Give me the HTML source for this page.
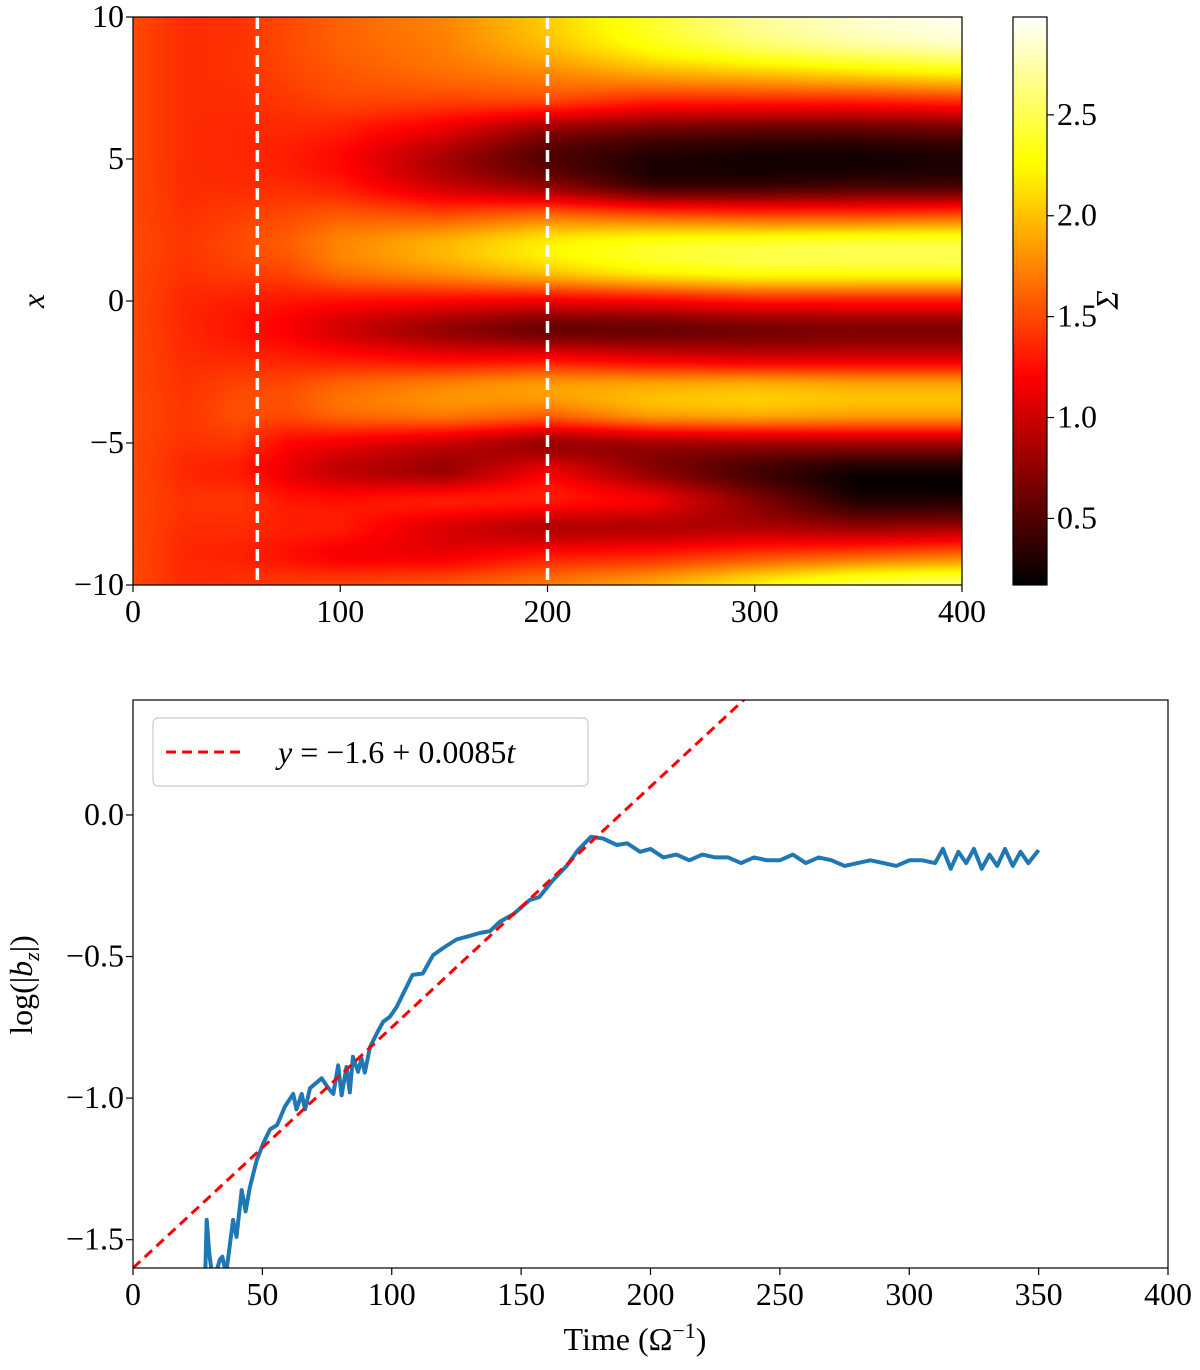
<!DOCTYPE html>
<html><head><meta charset="utf-8">
<style>
html,body{margin:0;padding:0;background:#fff;}
#wrap{position:relative;width:1200px;height:1370px;overflow:hidden;}
canvas{position:absolute;}
svg{position:absolute;left:0;top:0;}
text{font-family:"Liberation Serif",serif;fill:#000;}
</style></head>
<body>
<div id="wrap">
<canvas id="heat" style="left:133px;top:17px" width="829" height="568"></canvas>
<canvas id="cbar" style="left:1013px;top:17px" width="34" height="568"></canvas>
<svg id="svg" width="1200" height="1370"></svg>
</div>
<script>
// ---- heatmap data ----
const heatTimes = [0, 25, 50, 75, 100, 150, 200, 250, 300, 350, 400];
const heatX = [10,9,8,7,6,5,4,3,2,1,0,-1,-2,-3,-4,-5,-6,-7,-8,-9,-10];
const heatCols = [
 [1.5,1.5,1.5,1.5,1.5,1.5,1.5,1.5,1.5,1.5,1.5,1.5,1.5,1.5,1.5,1.5,1.5,1.5,1.5,1.5,1.5],
 [1.38,1.38,1.38,1.38,1.38,1.38,1.38,1.4,1.42,1.4,1.36,1.36,1.38,1.4,1.42,1.4,1.36,1.4,1.38,1.36,1.38],
 [1.4,1.4,1.4,1.38,1.36,1.36,1.38,1.45,1.5,1.45,1.32,1.28,1.36,1.48,1.52,1.42,1.32,1.42,1.38,1.34,1.4],
 [1.5,1.5,1.48,1.42,1.36,1.32,1.38,1.5,1.58,1.48,1.28,1.18,1.32,1.5,1.5,1.22,1.12,1.28,1.32,1.26,1.45],
 [1.6,1.6,1.55,1.48,1.32,1.22,1.32,1.58,1.75,1.65,1.25,1.02,1.28,1.62,1.62,1.15,0.95,1.25,1.3,1.18,1.48],
 [1.75,1.72,1.65,1.45,1.1,0.85,1.0,1.52,1.95,1.8,1.2,0.78,1.18,1.75,1.7,1.0,0.8,1.3,1.05,1.15,1.55],
 [2.05,1.98,1.75,1.45,0.75,0.5,0.8,1.65,2.2,2.0,1.15,0.6,1.2,1.85,1.6,0.8,1.15,1.3,0.9,1.3,1.7],
 [2.4,2.3,1.9,1.3,0.6,0.3,0.45,1.55,2.35,2.2,1.2,0.6,1.1,1.9,1.85,0.85,0.75,1.15,0.9,1.35,1.9],
 [2.7,2.55,2.0,1.3,0.55,0.25,0.45,1.5,2.4,2.3,1.3,0.65,1.05,1.95,1.9,0.85,0.45,0.7,0.9,1.5,2.2],
 [2.85,2.7,2.1,1.3,0.55,0.25,0.5,1.5,2.45,2.3,1.3,0.7,1.05,1.9,1.85,0.85,0.25,0.3,0.8,1.6,2.5],
 [2.95,2.8,2.2,1.35,0.6,0.3,0.5,1.55,2.45,2.3,1.3,0.7,1.05,1.9,1.85,0.85,0.25,0.3,0.85,1.7,2.6]
];
const cbarTicks = [0.5, 1.0, 1.5, 2.0, 2.5];
const heatXTicks = [0, 100, 200, 300, 400];
const heatYTicks = [10, 5, 0, -5, -10];
const markerTimes = [60, 200];
// ---- line data ----
const bzT = [28,28.5,29.5,31,33.6,34.5,36,38.7,40,42,43.5,45.2,47.8,50.3,53,55.7,58.7,61.9,63.2,65.2,66.5,68.4,72.9,75.5,77.4,79.3,80.6,82.5,83.8,85,87,88.3,89.6,91.6,94.2,96.7,99.3,101.9,104.5,108,112,116,119.9,125,129,134,138,141.8,147,153.4,157,162.3,167.6,172,177,181.6,187,191,196,200,205,210,215,220,225,230,235,240,245,250,255,260,265,270,275,280,285,290,295,300,305,310,313,316,319,322,325,328,331,334,337,340,343,346,350];
const bzV = [-1.6,-1.43,-1.55,-1.65,-1.57,-1.56,-1.62,-1.43,-1.49,-1.325,-1.40,-1.313,-1.22,-1.16,-1.11,-1.095,-1.03,-0.985,-1.04,-0.985,-1.04,-0.965,-0.93,-0.965,-0.985,-0.884,-0.99,-0.89,-0.98,-0.854,-0.907,-0.86,-0.91,-0.82,-0.772,-0.73,-0.713,-0.678,-0.63,-0.565,-0.56,-0.495,-0.47,-0.44,-0.43,-0.417,-0.41,-0.377,-0.35,-0.30,-0.29,-0.23,-0.18,-0.124,-0.077,-0.083,-0.106,-0.10,-0.13,-0.12,-0.15,-0.14,-0.16,-0.14,-0.15,-0.15,-0.17,-0.15,-0.16,-0.16,-0.14,-0.17,-0.15,-0.16,-0.18,-0.17,-0.16,-0.17,-0.18,-0.16,-0.16,-0.17,-0.12,-0.19,-0.13,-0.17,-0.12,-0.19,-0.14,-0.18,-0.12,-0.18,-0.13,-0.17,-0.124];
const fitA = -1.6, fitB = 0.0085;
const lineXTicks = [0,50,100,150,200,250,300,350,400];
const lineYTicks = [0.0,-0.5,-1.0,-1.5];

const VMIN=0.17, VMAX=2.985;
function hot(v){
  let n=(v-VMIN)/(VMAX-VMIN); n=Math.max(0,Math.min(1,n));
  const r=Math.min(1,n/0.365), g=Math.max(0,Math.min(1,(n-0.365)/0.375)), b=Math.max(0,Math.min(1,(n-0.746)/0.254));
  return [r*255,g*255,b*255];
}
const H={l:133,t:17,r:962,b:585};
const hx=t=>H.l+(t-0)/400*(H.r-H.l);
const hy=x=>H.t+(10-x)/20*(H.b-H.t);
const L={l:133,t:700,r:1168,b:1268};
const lx=t=>L.l+t/400*(L.r-L.l);
const ly=v=>L.t+(0.406-v)/(0.406+1.6)*(L.b-L.t);
const cby=v=>H.t+(VMAX-v)/(VMAX-VMIN)*(H.b-H.t);

function colVal(col,x){
  const f=(10-x); let i=Math.floor(f); if(i>=20)i=19; const u=f-i;
  const p=k=>col[Math.max(0,Math.min(20,k))];
  const p0=p(i-1),p1=p(i),p2=p(i+1),p3=p(i+2);
  return 0.5*((2*p1)+(-p0+p2)*u+(2*p0-5*p1+4*p2-p3)*u*u+(-p0+3*p1-3*p2+p3)*u*u*u);
}
(function(){
  const c=document.getElementById('heat'),ctx=c.getContext('2d');
  const W=c.width,Hh=c.height,img=ctx.createImageData(W,Hh);
  for(let px=0;px<W;px++){
    const t=(px+0.5)/W*400;
    let j=0; while(j<heatTimes.length-2&&t>heatTimes[j+1]) j++;
    const w=(t-heatTimes[j])/(heatTimes[j+1]-heatTimes[j]);
    for(let py=0;py<Hh;py++){
      const x=10-(py+0.5)/Hh*20;
      const v=(1-w)*colVal(heatCols[j],x)+w*colVal(heatCols[j+1],x);
      const c3=hot(v),k=(py*W+px)*4;
      img.data[k]=c3[0];img.data[k+1]=c3[1];img.data[k+2]=c3[2];img.data[k+3]=255;
    }
  }
  ctx.putImageData(img,0,0);
  const cb=document.getElementById('cbar'),cc=cb.getContext('2d');
  for(let py=0;py<cb.height;py++){
    const v=VMAX-(py+0.5)/cb.height*(VMAX-VMIN);const c3=hot(v);
    cc.fillStyle=`rgb(${c3[0]|0},${c3[1]|0},${c3[2]|0})`;cc.fillRect(0,py,cb.width,1);
  }
})();

const NS='http://www.w3.org/2000/svg',svg=document.getElementById('svg');
function el(tag,attrs,parent){const e=document.createElementNS(NS,tag);for(const k in attrs)e.setAttribute(k,attrs[k]);(parent||svg).appendChild(e);return e;}
function txt(s,x,y,anchor,size,name){const e=el('text',{x:x,y:y,'text-anchor':anchor,'font-size':size});e.textContent=s;


return e;}
function fmt(v,d){const s=Math.abs(v).toFixed(d);return (v<0?'\u2212':'')+s;}

markerTimes.forEach(t=>{const l=el('line',{x1:hx(t),x2:hx(t),y1:H.t,y2:H.b,stroke:'#fff','stroke-width':3.5,'stroke-dasharray':'12,7'});

});
const f1=el('rect',{x:H.l,y:H.t,width:H.r-H.l,height:H.b-H.t,fill:'none',stroke:'#000','stroke-width':1.2});


heatXTicks.forEach(t=>{el('line',{x1:hx(t),x2:hx(t),y1:H.b,y2:H.b+7,stroke:'#000','stroke-width':1.2});txt(String(t),hx(t),622,'middle',32,'heatmap-x-tick');});
heatYTicks.forEach(x=>{el('line',{x1:H.l-7,x2:H.l,y1:hy(x),y2:hy(x),stroke:'#000','stroke-width':1.2});txt(x===0?'0':fmt(x,0),H.l-9,hy(x)+10,'end',32,'heatmap-y-tick');});
const yl=txt('x',44,301,'middle',32,'heatmap-y-axis-title');yl.setAttribute('font-style','italic');yl.setAttribute('transform','rotate(-90 44 301)');
const cf=el('rect',{x:1013,y:H.t,width:34,height:H.b-H.t,fill:'none',stroke:'#000','stroke-width':1.2});


cbarTicks.forEach(v=>{el('line',{x1:1047,x2:1054,y1:cby(v),y2:cby(v),stroke:'#000','stroke-width':1.2});txt(v.toFixed(1),1057,cby(v)+10,'start',32,'colorbar-tick');});
const sl=txt('\u03A3',1118,300,'middle',32,'colorbar-title');sl.setAttribute('font-style','italic');sl.setAttribute('transform','rotate(-90 1118 300)');

const clip=el('clipPath',{id:'lc'});el('rect',{x:L.l,y:L.t,width:L.r-L.l,height:L.b-L.t},clip);
const g=el('g',{'clip-path':'url(#lc)'});


let d='';bzT.forEach((t,i)=>{d+=(i?'L':'M')+lx(t).toFixed(1)+','+ly(bzV[i]).toFixed(1);});
const bl=el('path',{d:d,fill:'none',stroke:'#1f77b4','stroke-width':4,'stroke-linejoin':'round'},g);


const fl=el('line',{x1:lx(0),y1:ly(fitA),x2:lx(400),y2:ly(fitA+fitB*400),stroke:'#ff0000','stroke-width':3,'stroke-dasharray':'10,6'},g);


const f2=el('rect',{x:L.l,y:L.t,width:L.r-L.l,height:L.b-L.t,fill:'none',stroke:'#000','stroke-width':1.2});


lineXTicks.forEach(t=>{el('line',{x1:lx(t),x2:lx(t),y1:L.b,y2:L.b+7,stroke:'#000','stroke-width':1.2});txt(String(t),lx(t),1305,'middle',32,'line-x-tick');});
lineYTicks.forEach(v=>{el('line',{x1:L.l-7,x2:L.l,y1:ly(v),y2:ly(v),stroke:'#000','stroke-width':1.2});txt(fmt(v,1),L.l-9,ly(v)+10,'end',32,'line-y-tick');});
const xt=txt('Time (\u03A9',635,1350,'middle',32,'line-x-axis-title');
const sup=el('tspan',{'font-size':22,dy:-12},xt);sup.textContent='\u22121';
const cl=el('tspan',{'font-size':32,dy:12},xt);cl.textContent=')';
const ylb=el('text',{x:32,y:985,'text-anchor':'middle','font-size':32,transform:'rotate(-90 32 985)'});


ylb.innerHTML='log(|<tspan font-style="italic">b</tspan><tspan font-size="22" font-style="italic" dy="7">z</tspan><tspan dy="-7">|)</tspan>';
const lg=el('g',{});


el('rect',{x:153,y:718,width:435,height:68,rx:5,fill:'#fff',stroke:'#ccc','stroke-width':1.2},lg);
const ll=el('line',{x1:166,x2:246,y1:752,y2:752,stroke:'#ff0000','stroke-width':3,'stroke-dasharray':'10,6'},lg);


const lt=el('text',{x:278,y:763,'font-size':32},lg);


lt.innerHTML='<tspan font-style="italic">y</tspan> = \u22121.6 + 0.0085<tspan font-style="italic">t</tspan>';
</script>
</body></html>
